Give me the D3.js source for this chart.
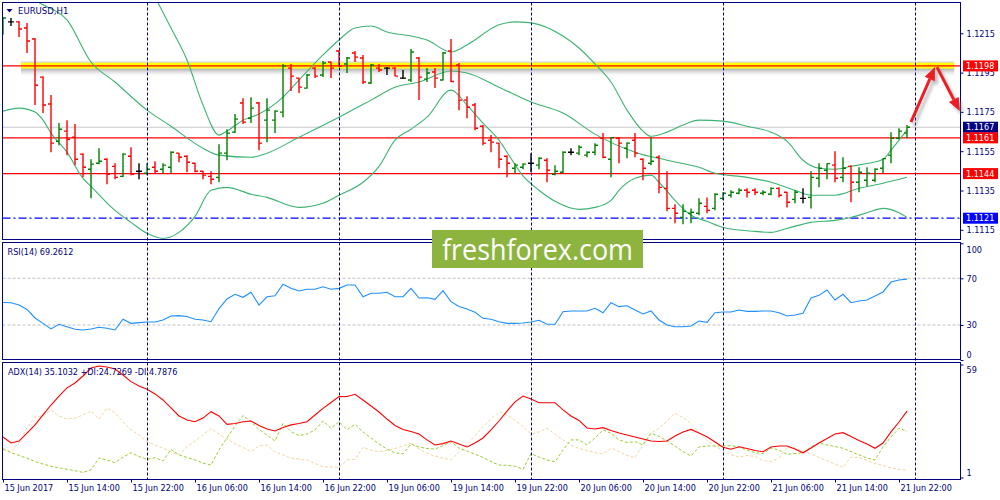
<!DOCTYPE html>
<html>
<head>
<meta charset="utf-8">
<script src="https://cdn.jsdelivr.net/npm/d3@7"></script>
<style>
  body { margin: 0; background: #fff; }
  svg { display: block; }
  text { font-family: "DejaVu Sans Condensed", "Liberation Sans", Arial, sans-serif; }
</style>
</head>
<body>
<script>
// EURUSD H1 bars, first bar = 15 Jun 06:00, one bar per hour
const opens = [
  1.12152,1.12208,1.12208,1.12177,1.12121,1.11927,1.11790,1.11601,1.11652,1.11621,
  1.11535,1.11458,1.11489,1.11509,1.11473,1.11422,1.11524,1.11448,1.11438,1.11468,
  1.11458,1.11468,1.11540,1.11524,1.11489,1.11448,1.11422,1.11417,1.11540,1.11647,
  1.11795,1.11718,1.11795,1.11708,1.11708,1.11749,1.11973,1.11922,1.11871,1.11973,
  1.11938,1.12004,1.12060,1.11994,1.12050,1.12024,1.11897,1.11973,1.11973,1.11973,
  1.11922,1.11912,1.12024,1.11917,1.11953,1.11912,1.12060,1.11989,1.11810,1.11785,
  1.11677,1.11606,1.11591,1.11524,1.11463,1.11468,1.11489,1.11479,1.11504,1.11433,
  1.11443,1.11545,1.11540,1.11530,1.11545,1.11616,1.11509,1.11616,1.11565,1.11606,
  1.11509,1.11489,1.11519,1.11361,1.11259,1.11213,1.11234,1.11234,1.11269,1.11259,
  1.11310,1.11326,1.11336,1.11351,1.11351,1.11336,1.11331,1.11361,1.11341,1.11305,
  1.11310,1.11315,1.11412,1.11453,1.11479,1.11417,1.11473,1.11392,1.11402,1.11402,
  1.11463,1.11530,1.11616,1.11642];
const highs = [
  1.12233,1.12228,1.12213,1.12203,1.12126,1.11932,1.11836,1.11693,1.11708,1.11688,
  1.11540,1.11509,1.11565,1.11514,1.11489,1.11540,1.11570,1.11489,1.11489,1.11499,
  1.11489,1.11550,1.11542,1.11530,1.11491,1.11450,1.11448,1.11586,1.11662,1.11739,
  1.11820,1.11825,1.11800,1.11820,1.11759,1.11994,1.11994,1.11925,1.11943,1.11978,
  1.12009,1.12006,1.12065,1.12029,1.12060,1.12040,1.11994,1.11994,1.11978,1.11978,
  1.11963,1.12070,1.12029,1.11973,1.11973,1.12055,1.12121,1.11999,1.11830,1.11795,
  1.11683,1.11632,1.11593,1.11530,1.11489,1.11489,1.11540,1.11519,1.11514,1.11479,
  1.11550,1.11565,1.11580,1.11550,1.11591,1.11642,1.11621,1.11621,1.11596,1.11642,
  1.11514,1.11621,1.11530,1.11448,1.11280,1.11280,1.11259,1.11310,1.11315,1.11336,
  1.11341,1.11351,1.11361,1.11361,1.11361,1.11351,1.11366,1.11366,1.11343,1.11351,
  1.11361,1.11448,1.11489,1.11489,1.11550,1.11519,1.11479,1.11468,1.11468,1.11463,
  1.11514,1.11647,1.11667,1.11683];
const lows = [
  1.12142,1.12187,1.12131,1.12050,1.11785,1.11744,1.11545,1.11580,1.11530,1.11479,
  1.11417,1.11310,1.11484,1.11382,1.11407,1.11417,1.11428,1.11407,1.11428,1.11438,
  1.11438,1.11438,1.11494,1.11443,1.11443,1.11407,1.11382,1.11392,1.11504,1.11642,
  1.11688,1.11693,1.11555,1.11596,1.11642,1.11723,1.11856,1.11846,1.11868,1.11922,
  1.11927,1.11922,1.11978,1.11948,1.12004,1.11892,1.11892,1.11953,1.11938,1.11932,
  1.11917,1.11902,1.11810,1.11902,1.11871,1.11910,1.11902,1.11759,1.11718,1.11657,
  1.11580,1.11545,1.11463,1.11417,1.11438,1.11458,1.11443,1.11458,1.11392,1.11428,
  1.11438,1.11530,1.11530,1.11519,1.11530,1.11514,1.11417,1.11489,1.11514,1.11519,
  1.11402,1.11479,1.11336,1.11244,1.11183,1.11178,1.11183,1.11224,1.11234,1.11249,
  1.11300,1.11315,1.11331,1.11315,1.11326,1.11326,1.11326,1.11315,1.11264,1.11285,
  1.11285,1.11259,1.11366,1.11407,1.11392,1.11392,1.11290,1.11341,1.11371,1.11392,
  1.11438,1.11489,1.11611,1.11616];
const closes = [
  1.12228,1.12208,1.12172,1.12111,1.11886,1.11785,1.11591,1.11662,1.11611,1.11509,
  1.11468,1.11484,1.11499,1.11433,1.11417,1.11535,1.11433,1.11448,1.11458,1.11448,
  1.11479,1.11545,1.11519,1.11494,1.11448,1.11428,1.11407,1.11540,1.11642,1.11713,
  1.11698,1.11769,1.11591,1.11759,1.11754,1.11983,1.11932,1.11876,1.11938,1.11932,
  1.11999,1.11973,1.11983,1.12024,1.12029,1.11902,1.11989,1.11963,1.11973,1.11932,
  1.11922,1.12055,1.11927,1.11948,1.11922,1.12050,1.11905,1.11810,1.11774,1.11667,
  1.11591,1.11596,1.11509,1.11489,1.11479,1.11484,1.11489,1.11514,1.11453,1.11448,
  1.11545,1.11545,1.11570,1.11545,1.11580,1.11519,1.11619,1.11591,1.11591,1.11540,
  1.11463,1.11499,1.11366,1.11259,1.11234,1.11244,1.11239,1.11285,1.11249,1.11331,
  1.11336,1.11341,1.11351,1.11341,1.11341,1.11341,1.11361,1.11326,1.11290,1.11341,
  1.11310,1.11417,1.11463,1.11487,1.11412,1.11463,1.11392,1.11443,1.11438,1.11458,
  1.11512,1.11616,1.11652,1.11672];

// Bollinger bands, read at some bars (bar index, price)
const bbUpperIdx = [19,21,23,25,27,28,30,32,35,37,40,42,44,46,48,51,53,56,58,62,64,66,70,72,74,76,78,80,81,83,85,87,90,93,96,98,100,102,104,106,108,110,111,112,113];
const bbUpper = [1.12335,1.12177,1.12014,1.11785,1.11632,1.11652,1.11708,1.11739,1.11825,1.11912,1.12040,1.12116,1.12177,1.12187,1.12157,1.12136,1.12116,1.12055,1.12091,1.12193,1.12208,1.12203,1.12136,1.12075,1.11994,1.11902,1.11759,1.11652,1.11626,1.11647,1.11683,1.11708,1.11703,1.11677,1.11647,1.11601,1.11504,1.11463,1.11458,1.11473,1.11487,1.11509,1.11555,1.11606,1.11657];
const bbMidIdx = [3,5,8,11,14,18,21,25,27,31,33,37,42,46,49,52,56,58,62,66,70,74,79,83,87,89,93,96,99,101,104,107,110,113];
const bbMid = [1.12335,1.12295,1.12218,1.12004,1.11902,1.11759,1.11677,1.11565,1.11530,1.11519,1.11540,1.11621,1.11723,1.11810,1.11876,1.11902,1.11958,1.11948,1.11876,1.11800,1.11744,1.11637,1.11545,1.11504,1.11468,1.11438,1.11417,1.11392,1.11351,1.11326,1.11326,1.11361,1.11387,1.11417];
const bbLowerIdx = [0,2,4,5,6,8,10,11,14,16,18,20,22,24,26,28,31,33,37,40,42,45,47,49,51,53,56,58,60,62,63,65,67,69,72,74,76,77,79,81,82,84,86,88,90,94,96,98,101,104,106,108,110,112,113];
const bbLower = [1.11754,1.11769,1.11749,1.11708,1.11642,1.11545,1.11412,1.11371,1.11249,1.11188,1.11132,1.11106,1.11137,1.11218,1.11351,1.11366,1.11331,1.11315,1.11264,1.11285,1.11326,1.11392,1.11473,1.11606,1.11662,1.11723,1.11861,1.11785,1.11693,1.11606,1.11545,1.11424,1.11351,1.11295,1.11254,1.11264,1.11300,1.11351,1.11412,1.11428,1.11392,1.11300,1.11224,1.11193,1.11162,1.11142,1.11137,1.11157,1.11188,1.11198,1.11213,1.11237,1.11259,1.11237,1.11213];

// indicators, one value per bar
const rsi = [
  49.3,49.1,47.1,43.3,36.0,31.4,26.6,30.6,28.5,26.3,
  25.7,26.6,28.0,27.2,25.7,34.9,31.4,32.0,32.6,32.6,
  34.3,37.7,38.0,37.3,34.9,34.3,32.8,44.1,52.3,56.3,
  53.7,58.0,47.1,54.2,55.1,64.9,61.4,59.1,60.6,60.6,
  62.8,60.6,61.4,64.3,64.3,54.2,57.2,57.2,58.0,54.2,
  54.2,61.4,53.1,53.4,52.0,59.4,50.0,45.8,43.7,40.9,
  35.7,34.9,32.8,31.4,31.4,31.7,32.6,34.0,30.6,30.6,
  41.4,42.0,42.0,42.0,44.3,40.5,49.1,45.7,46.5,42.8,
  39.4,42.0,34.3,30.0,28.5,28.5,29.1,33.4,32.3,40.5,
  41.1,41.1,42.8,41.7,41.7,42.0,42.0,40.5,37.7,38.6,
  40.0,53.1,55.4,60.0,51.4,56.3,49.1,50.6,51.4,54.8,
  58.3,66.8,68.5,69.3];
const adx = [
  21.8,18.7,19.7,23.8,28.0,33.1,38.2,42.8,47.0,49.5,
  53.1,57.2,58.2,57.7,56.7,53.6,50.2,48.0,46.3,43.9,
  40.8,36.7,32.6,30.5,29.6,31.5,34.8,32.6,28.3,28.7,
  29.6,30.0,27.7,25.9,24.9,26.7,28.0,28.7,29.6,33.1,
  36.5,39.5,42.5,42.6,43.7,40.8,37.7,34.6,31.0,27.7,
  25.6,24.6,23.3,20.3,17.7,18.4,19.7,18.2,16.7,18.7,
  21.3,25.4,30.0,35.1,39.8,42.8,41.3,39.4,39.4,39.4,
  35.7,32.6,30.3,26.4,25.9,26.6,25.1,23.8,22.8,21.8,
  20.8,19.7,19.5,19.7,22.3,24.4,25.7,23.8,21.9,19.2,
  16.5,15.5,16.8,15.9,14.9,14.2,16.7,17.2,17.2,15.6,
  13.7,16.1,18.7,21.0,23.3,24.0,22.0,20.0,18.2,16.0,
  18.7,24.4,29.5,35.1];
const plusDI = [
  15.5,13.8,12.3,10.9,9.2,7.9,6.8,6.0,5.2,4.5,
  3.6,4.9,11.0,10.0,8.6,11.5,13.7,11.8,10.3,11.2,
  9.5,15.4,12.6,11.3,10.0,8.4,7.4,15.1,21.3,27.4,
  32.8,29.6,25.6,22.8,19.7,28.8,24.6,22.5,23.3,25.4,
  30.0,26.3,29.6,25.6,28.3,24.4,21.3,18.2,15.6,13.6,
  13.1,18.2,16.7,15.9,15.6,17.4,19.4,16.1,14.6,12.9,
  11.3,9.2,7.4,7.2,6.8,5.2,13.3,11.5,10.0,9.1,
  15.1,20.3,20.3,17.7,21.3,25.4,23.7,20.3,19.0,19.4,
  17.7,23.7,22.1,19.7,17.2,14.3,12.0,16.7,17.2,17.2,
  17.2,17.4,16.7,15.1,13.7,13.3,16.1,15.1,12.9,13.3,
  13.7,16.7,18.6,17.7,16.9,16.0,14.3,12.6,11.0,10.0,
  16.7,21.8,26.3,24.7];
const minusDI = [
  16.1,14.1,18.7,26.4,32.1,32.6,35.7,32.6,31.0,31.5,
  33.1,35.1,31.0,36.7,34.1,29.5,25.4,22.8,19.4,17.7,
  16.0,14.3,12.6,16.7,19.7,22.8,26.2,23.3,20.8,18.2,
  16.4,14.3,17.2,17.7,14.2,12.6,10.9,10.5,10.0,8.2,
  6.5,6.4,6.2,10.0,10.3,16.5,15.1,14.2,14.9,15.9,
  17.2,18.5,15.6,13.4,12.0,10.9,10.0,14.1,17.7,22.3,
  27.1,31.0,34.8,33.1,30.3,27.1,23.3,24.4,26.3,23.3,
  20.3,17.7,15.9,14.8,13.8,13.1,16.1,14.3,12.3,11.2,
  17.7,23.8,26.3,30.0,33.9,31.8,28.7,24.1,20.0,17.2,
  14.6,12.6,11.5,12.3,11.8,9.7,9.2,11.0,16.4,16.1,
  14.6,13.1,11.3,9.7,7.9,6.2,11.5,11.3,9.7,8.2,
  7.2,5.9,5.1,4.8];

// axis / label data
const timeIdx = [0,8,16,24,32,40,48,56,64,72,80,88,96,104,112];
const timeLabels = ["15 Jun 2017","15 Jun 14:00","15 Jun 22:00","16 Jun 06:00","16 Jun 14:00","16 Jun 22:00","19 Jun 06:00","19 Jun 14:00","19 Jun 22:00","20 Jun 06:00","20 Jun 14:00","20 Jun 22:00","21 Jun 06:00","21 Jun 14:00","21 Jun 22:00"];
const daySepIdx = [18,42,66,90,114];
const priceTicks = [1.1215,1.1195,1.1175,1.1155,1.1135,1.1115];
const rsiTicks = [100,70,30,0];
const rsiLevels = [70,30];
const adxTicks = [59,1];
const rsiCaption = "RSI(14) 69.2612";
const adxCaption = "ADX(14) 35.1032 +DI:24.7269 -DI:4.7876";

// drawn objects
const levelPrices = [1.11984, 1.11618, 1.11436];
const levelLabels = ["1.1198", "1.1161", "1.1144"];
const lastPrice = 1.11672, lastLabel = "1.1167";
const supportPrice = 1.11209, supportLabel = "1.1121";
const bandIdx = [2.25, 118.9];          // yellow highlight around the 1.1198 level
const arrowIdx = [[113.5, 116.5], [116.75, 119.6]];
const arrowPrice = [[1.11698, 1.11978], [1.11978, 1.11754]];

const navy = "#000080";
const W = 1000, H = 500;

const svg = d3.select("body").append("svg").attr("width", W).attr("height", H);
const defs = svg.append("defs");

const panels = {
  main: { top: 2.5, bottom: 239.5 },
  rsi: { top: 242.5, bottom: 359.5 },
  adx: { top: 362.5, bottom: 479.5 }
};
const left = 2.5, right = 960.5;

const x = d3.scaleLinear().domain([0, 114]).range([3, 915]);
const yMain = d3.scaleLinear().domain([1.1115, 1.1215]).range([229.8, 33.3]);
const yRsi = d3.scaleLinear().domain([0, 100]).range([360, 243.3]);
const yAdx = d3.scaleLinear().domain([1, 59]).range([477.5, 364.5]);

Object.entries(panels).forEach(([k, p]) => {
  defs.append("clipPath").attr("id", "clip-" + k)
    .append("rect").attr("x", left + 0.5).attr("y", p.top + 0.5)
    .attr("width", right - left - 1).attr("height", p.bottom - p.top - 1);
});

// shadow helpers
const grad = defs.append("linearGradient").attr("id", "shade").attr("x1", 0).attr("x2", 0).attr("y1", 0).attr("y2", 1);
grad.append("stop").attr("offset", "0%").attr("stop-color", "#8a8a8a").attr("stop-opacity", 0.75);
grad.append("stop").attr("offset", "100%").attr("stop-color", "#ffffff").attr("stop-opacity", 0);
defs.append("filter").attr("id", "blur").append("feGaussianBlur").attr("stdDeviation", 1.6);

const gMain = svg.append("g").attr("clip-path", "url(#clip-main)");
const gRsi = svg.append("g").attr("clip-path", "url(#clip-rsi)");
const gAdx = svg.append("g").attr("clip-path", "url(#clip-adx)");

// ---- main panel ----
// yellow highlighted level with shadow
const yb = yMain(levelPrices[0]);
const bandW = x(bandIdx[1]) - x(bandIdx[0]);
gMain.append("rect").attr("x", x(bandIdx[0])).attr("y", yb + 2.4)
  .attr("width", bandW).attr("height", 9).attr("fill", "url(#shade)");
gMain.append("rect").attr("x", x(bandIdx[0])).attr("y", yb - 4.6)
  .attr("width", bandW).attr("height", 1.6).attr("fill", "#d8d8d8");
gMain.append("rect").attr("x", x(bandIdx[0])).attr("y", yb - 3.2)
  .attr("width", bandW).attr("height", 5.8).attr("fill", "#ffff00");

// last price line (gray)
gMain.append("line").attr("x1", left).attr("x2", right)
  .attr("y1", yMain(lastPrice)).attr("y2", yMain(lastPrice))
  .attr("stroke", "#c8c8c8").attr("stroke-width", 1);

// support dash-dot line
gMain.append("line").attr("x1", left).attr("x2", right)
  .attr("y1", yMain(supportPrice)).attr("y2", yMain(supportPrice))
  .attr("stroke", "#0000ff").attr("stroke-width", 1.2).attr("stroke-dasharray", "8,3,2,3");

// red levels
gMain.selectAll(".lvl").data(levelPrices).enter().append("line")
  .attr("x1", left).attr("x2", right)
  .attr("y1", d => yMain(d)).attr("y2", d => yMain(d))
  .attr("stroke", "#ff0000").attr("stroke-width", 1.3);

// Bollinger bands
function bandLine(idx, vals) {
  return d3.line().x((d, i) => x(idx[i])).y(d => yMain(d)).curve(d3.curveMonotoneX)(vals);
}
[[bbUpperIdx, bbUpper], [bbMidIdx, bbMid], [bbLowerIdx, bbLower]].forEach(([idx, vals]) => {
  gMain.append("path").attr("d", bandLine(idx, vals))
    .attr("fill", "none").attr("stroke", "#3cb371").attr("stroke-width", 1.1);
});

// OHLC bars
const bars = d3.range(opens.length);
gMain.selectAll(".bar").data(bars).enter().append("path")
  .attr("d", i => {
    const cx = x(i);
    return `M${cx},${yMain(highs[i])}V${yMain(lows[i])}` +
      `M${cx - 3},${yMain(opens[i])}H${cx}` +
      `M${cx},${yMain(closes[i])}H${cx + 3}`;
  })
  .attr("fill", "none")
  .attr("stroke-width", 1.4)
  .attr("stroke", i => closes[i] > opens[i] ? "#008000" : closes[i] < opens[i] ? "#ff0000" : "#000000");

// ---- RSI panel ----
gRsi.selectAll(".lev").data(rsiLevels).enter().append("line")
  .attr("x1", left).attr("x2", right)
  .attr("y1", d => yRsi(d)).attr("y2", d => yRsi(d))
  .attr("stroke", "#c0c0c0").attr("stroke-dasharray", "3,2");
gRsi.append("path")
  .attr("d", d3.line().x((d, i) => x(i)).y(d => yRsi(d))(rsi))
  .attr("fill", "none").attr("stroke", "#1e90ff").attr("stroke-width", 1.1);

// ---- ADX panel ----
gAdx.append("path")
  .attr("d", d3.line().x((d, i) => x(i)).y(d => yAdx(d))(minusDI))
  .attr("fill", "none").attr("stroke", "#f3d6a0").attr("stroke-width", 1).attr("stroke-dasharray", "3,2");
gAdx.append("path")
  .attr("d", d3.line().x((d, i) => x(i)).y(d => yAdx(d))(plusDI))
  .attr("fill", "none").attr("stroke", "#9acd32").attr("stroke-width", 1).attr("stroke-dasharray", "3,2");
gAdx.append("path")
  .attr("d", d3.line().x((d, i) => x(i)).y(d => yAdx(d))(adx))
  .attr("fill", "none").attr("stroke", "#ff0000").attr("stroke-width", 1.1);

// day separators across all panels
svg.selectAll(".sep").data(daySepIdx).enter().append("line")
  .attr("x1", d => x(d) + 0.5).attr("x2", d => x(d) + 0.5)
  .attr("y1", panels.main.top).attr("y2", panels.adx.bottom)
  .attr("stroke", navy).attr("stroke-width", 1).attr("stroke-dasharray", "3,2");

// panel borders
Object.values(panels).forEach(p => {
  svg.append("rect").attr("x", left).attr("y", p.top)
    .attr("width", right - left).attr("height", p.bottom - p.top)
    .attr("fill", "none").attr("stroke", navy).attr("stroke-width", 1)
    .attr("shape-rendering", "crispEdges");
});

// ---- axes ----
function styleAxis(g) {
  g.select(".domain").remove();
  g.selectAll("line").attr("stroke", navy);
  g.selectAll("text").attr("fill", navy).style("font-size", "9px");
}
svg.append("g").attr("transform", `translate(${right},0)`)
  .call(d3.axisRight(yMain).tickValues(priceTicks).tickSize(3).tickPadding(3).tickFormat(d3.format(".4f")))
  .call(styleAxis);

const axRsi = svg.append("g").attr("transform", `translate(${right},0)`)
  .call(d3.axisRight(yRsi).tickValues(rsiTicks).tickSize(3).tickPadding(3))
  .call(styleAxis);
axRsi.selectAll(".tick text").attr("dy", d => d === 100 ? "1em" : d === 0 ? "-0.3em" : "0.32em");

const axAdx = svg.append("g").attr("transform", `translate(${right},0)`)
  .call(d3.axisRight(yAdx).tickValues(adxTicks).tickSize(3).tickPadding(3))
  .call(styleAxis);
axAdx.selectAll(".tick text").attr("dy", (d, i) => i === 0 ? "0.9em" : "-0.25em");

const axX = svg.append("g").attr("transform", `translate(0,${panels.adx.bottom})`)
  .call(d3.axisBottom(x).tickValues(timeIdx).tickSize(3).tickPadding(2).tickFormat((d, i) => timeLabels[i]))
  .call(styleAxis);
axX.selectAll(".tick text").attr("text-anchor", "start").attr("dx", "1");

// ---- price boxes on the axis ----
function priceBox(price, label, color) {
  const yy = yMain(price);
  svg.append("rect").attr("x", 963).attr("y", yy - 5.5).attr("width", 35).attr("height", 11).attr("fill", color);
  svg.append("text").attr("x", 966).attr("y", yy).attr("dy", "0.35em")
    .attr("fill", "#fff").style("font-size", "9px").text(label);
}
priceBox(levelPrices[0], levelLabels[0], "#ff0000");
priceBox(lastPrice, lastLabel, "#000080");
priceBox(levelPrices[1], levelLabels[1], "#ff0000");
priceBox(levelPrices[2], levelLabels[2], "#ff0000");
priceBox(supportPrice, supportLabel, "#0000ff");

// ---- arrows ----
function arrowShape(g, x1, y1, x2, y2, color) {
  const ang = Math.atan2(y2 - y1, x2 - x1), len = 13, hw = 5.5;
  const bx = x2 - len * Math.cos(ang), by = y2 - len * Math.sin(ang);
  const px = -Math.sin(ang) * hw, py = Math.cos(ang) * hw;
  g.append("line").attr("x1", x1).attr("y1", y1).attr("x2", bx).attr("y2", by)
    .attr("stroke", color).attr("stroke-width", 3);
  g.append("path").attr("d", `M${x2},${y2}L${bx + px},${by + py}L${bx - px},${by - py}Z`).attr("fill", color);
}
const shadowG = svg.append("g").attr("transform", "translate(3,4)").attr("opacity", 0.45).attr("filter", "url(#blur)");
const arrowG = svg.append("g");
arrowIdx.forEach((a, i) => {
  const p = arrowPrice[i];
  arrowShape(shadowG, x(a[0]), yMain(p[0]), x(a[1]), yMain(p[1]), "#777");
  arrowShape(arrowG, x(a[0]), yMain(p[0]), x(a[1]), yMain(p[1]), "#ee1c24");
});

// ---- panel captions ----
svg.append("path").attr("d", "M6.5,9H12.5L9.5,12.5Z").attr("fill", navy);
svg.append("text").attr("x", 18).attr("y", 14).attr("fill", navy).style("font-size", "9.5px").text("EURUSD,H1");
svg.append("text").attr("x", 7.5).attr("y", 255).attr("fill", navy).style("font-size", "9px").text(rsiCaption);
svg.append("text").attr("x", 8).attr("y", 375).attr("fill", navy).style("font-size", "9px").text(adxCaption);

// ---- watermark ----
svg.append("rect").attr("x", 432).attr("y", 230).attr("width", 211).attr("height", 38).attr("fill", "#8db43e");
svg.append("text").attr("x", 537.5).attr("y", 259.5).attr("text-anchor", "middle")
  .attr("fill", "#ffffff").style("font-family", "'Open Sans', 'Noto Sans', sans-serif").style("font-size", "29px")
  .attr("textLength", 191).attr("lengthAdjust", "spacingAndGlyphs")
  .text("freshforex.com");
</script>
</body>
</html>
